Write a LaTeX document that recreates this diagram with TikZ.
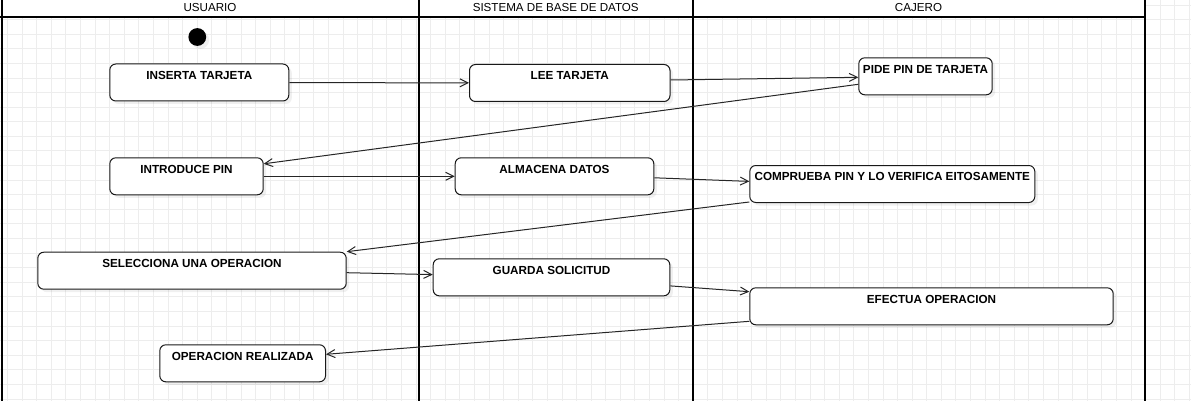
\documentclass[tikz,border=0pt]{standalone}
\usepackage{fontspec}
\setmainfont{Liberation Sans}
\usepackage{tikz}
\usetikzlibrary{arrows.meta, shadows}

\tikzset{
	actbox/.style={draw=black!90, line width=1pt, fill=white, rounded corners=6pt,
		anchor=north west, minimum width=#1, inner xsep=0pt, inner ysep=0pt,
		text height=15.4pt, text depth=21.6pt,
		font=\bfseries\fontsize{11.7}{13}\selectfont,
		drop shadow={shadow xshift=3pt, shadow yshift=-3pt, opacity=0.12}},
	startdot/.style={circle, fill=black, minimum size=17.8pt, inner sep=0pt,
		drop shadow={shadow xshift=3pt, shadow yshift=-3pt, opacity=0.12}},
	lanehead/.style={anchor=base, font=\fontsize{11.6}{13}\selectfont},
	laneline/.style={line width=2pt, black},
	gridline/.style={black!7, line width=0.8pt},
	conn/.style={line width=1pt, black!85},
}

\begin{document}
\begin{tikzpicture}[x=1pt, y=-1pt, >={Straight Barb[length=8pt,width=8pt]}]
	\useasboundingbox (0,0) rectangle (1191,401);
	% grid
	\foreach \gx in {0,...,81}
		\draw[gridline] (7.5+14.59*\gx,0) -- (7.5+14.59*\gx,401);
	\foreach \gy in {0,...,27}
		\draw[gridline] (0,5+14.59*\gy) -- (1191,5+14.59*\gy);

	% lanes
	\fill[white] (0,0) rectangle (1145,17.5);
	\draw[laneline] (0,17.5) -- (1145,17.5);
	\foreach \lx in {1.5,419,692.5,1145}
		\draw[laneline] (\lx,0) -- (\lx,401);
	\node[lanehead]		(husr)	at (210,11.7)		{USUARIO};
	\node[lanehead]		(hsis)	at (555.7,11.7)		{SISTEMA DE BASE DE DATOS};
	\node[lanehead]		(hcaj)	at (918.5,11.7)		{CAJERO};

	% activities
	\node[startdot]			(ini)		at (197.3,37)		{};
	\node[actbox=179]		(ins)		at (109.3,63.5)		{INSERTA TARJETA};
	\node[actbox=200.5]		(lee)		at (469,64)			{LEE TARJETA};
	\node[actbox=133.4]		(pide)		at (858.3,57.3)		{PIDE PIN DE TARJETA};
	\node[actbox=153.4]		(intro)		at (109.3,157.3)	{INTRODUCE PIN};
	\node[actbox=198.6]		(alm)		at (454.7,157.3)	{ALMACENA DATOS};
	\node[actbox=285]		(comp)		at (749.3,165)		{COMPRUEBA PIN Y LO VERIFICA EITOSAMENTE};
	\node[actbox=308.4]		(sel)		at (37.3,251.7)		{SELECCIONA UNA OPERACION};
	\node[actbox=236.6]		(guard)		at (432.7,258.3)	{GUARDA SOLICITUD};
	\node[actbox=363.4]		(efec)		at (749.3,287.3)	{EFECTUA OPERACION};
	\node[actbox=165.7]		(opreal)	at (159.3,344.3)	{OPERACION REALIZADA};

	\path[->, conn]
		(ins)							edge	(lee)
		([yshift=3pt]lee.east)			edge	([yshift=-1pt]pide.west)
		([yshift=-8pt]pide.west)		edge	([yshift=-6.5pt]intro.north east)
		(intro)							edge	(alm)
		([yshift=-1.5pt]alm.east)		edge	([yshift=2.6pt]comp.west)
		([yshift=1pt]comp.south west)	edge	(sel.north east)
		([yshift=-2pt]sel.east)			edge	([yshift=2.7pt]guard.west)
		([yshift=-8.6pt]guard.east)		edge	([yshift=-4.4pt]efec.north west)
		([yshift=4pt]efec.south west)	edge	([yshift=-10pt]opreal.north east)
		;
\end{tikzpicture}
\end{document}
